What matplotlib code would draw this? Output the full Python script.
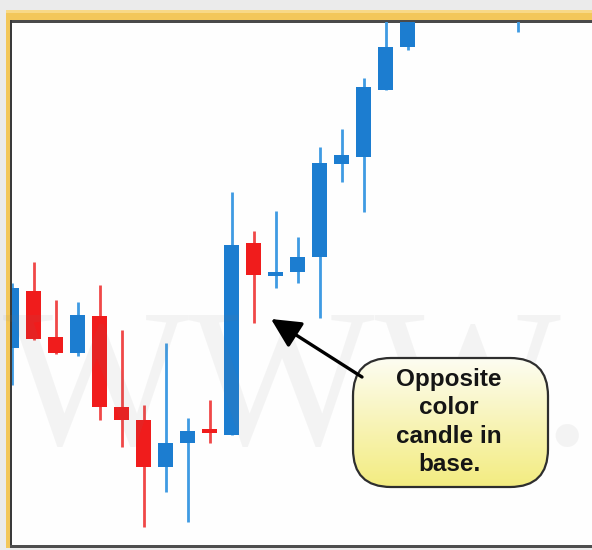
import matplotlib
matplotlib.use("Agg")
import matplotlib.pyplot as plt
import numpy as np
from matplotlib.patches import Rectangle, FancyBboxPatch
from matplotlib.colors import LinearSegmentedColormap

# ---------------- data ----------------
idx    = [0, 1, 2, 3, 4, 5, 6, 7, 8, 9, 10, 11, 12, 13, 14, 15, 16, 17, 18, 23]
opens  = [197, 254, 208, 192, 229, 138, 125, 78, 102, 116, 110, 302, 269, 273, 288, 381, 388, 455, 498, 540]
closes = [257, 206, 192, 230, 138, 125, 78, 102, 114, 112, 300, 270, 273, 288, 382, 390, 458, 498, 545, 570]
highs  = [262, 283, 245, 243, 260, 215, 140, 202, 127, 145, 353, 314, 334, 308, 398, 416, 467, 540, 560, 580]
lows   = [160, 205, 191, 189, 125, 98, 18, 53, 23, 102, 110, 222, 257, 262, 227, 363, 333, 455, 495, 513]

callout_text = "Opposite\ncolor\ncandle in\nbase."
watermark = "WWW."

UP_BODY, UP_WICK = "#1c7dd0", "#3f9be3"
DN_BODY, DN_WICK = "#f01c1c", "#f04848"

W, H = 592, 550
fig = plt.figure(figsize=(W / 100, H / 100), dpi=100)
fig.patch.set_facecolor("#ebebeb")

# background / frame axes in pixel coordinates
bg = fig.add_axes([0, 0, 1, 1])
bg.set_xlim(0, W); bg.set_ylim(H, 0); bg.axis("off")
bg.add_patch(Rectangle((12, 22), W - 12, 523, color="#fefefe", lw=0))   # white plot area
bg.add_patch(Rectangle((6, 10), W - 6, 12, color="#f3c75a", lw=0))      # top yellow
bg.add_patch(Rectangle((6, 10), 5, 538, color="#f3c75a", lw=0))         # left yellow
bg.add_patch(Rectangle((6, 10), W - 6, 3, color="#f8d987", lw=0))
bg.add_patch(Rectangle((10, 19.5), W - 10, 3, color="#4a4a4a", lw=0))  # top dark line
bg.add_patch(Rectangle((9.5, 19.5), 2.5, 528, color="#3a3a3a", lw=0))  # left dark line
bg.add_patch(Rectangle((10, 544.5), W - 10, 3.5, color="#4e4e4e", lw=0))  # bottom dark line

# chart axes: white plot area x 12..592, y 22..545
ax = fig.add_axes([12 / W, (H - 545) / H, (W - 12) / W, (545 - 22) / H])
ax.set_xlim((12 - 11.5) / 22, (W - 11.5) / 22)
ax.set_ylim(0, 523)
ax.axis("off")

idx_a = np.array(idx)
o = np.array(opens); c = np.array(closes); h = np.array(highs); l = np.array(lows)
up = c >= o
body_col = np.where(up, UP_BODY, DN_BODY)
wick_col = np.where(up, UP_WICK, DN_WICK)
ax.vlines(idx_a, l, h, colors=wick_col, lw=2.0, zorder=2)
bottoms = np.minimum(o, c)
heights = np.maximum(np.abs(c - o), 3)
ax.bar(idx_a, heights, bottom=bottoms, width=0.64, color=body_col, lw=0, zorder=3)

# overlay axes for watermark, arrow and callout
ov = fig.add_axes([0, 0, 1, 1])
ov.set_xlim(0, W); ov.set_ylim(H, 0); ov.axis("off")

ov.text(3, 444, watermark, family="Liberation Serif", fontsize=142,
        color="#7a7a7a", alpha=0.08, ha="left", va="baseline", zorder=1)

# callout box with vertical gradient
box = FancyBboxPatch((353, 358), 195, 129,
                     boxstyle="round,pad=0,rounding_size=38",
                     facecolor="none", edgecolor="#2e2e2e", lw=1.6, zorder=5)
ov.add_patch(box)
grad = np.linspace(0, 1, 256).reshape(-1, 1)
cmap = LinearSegmentedColormap.from_list("yl", ["#fdfdf2", "#f8f4b8", "#f3ec80"])
im = ov.imshow(grad, extent=(353, 548, 487, 358), cmap=cmap, aspect="auto", zorder=4)
clip = FancyBboxPatch((353, 358), 195, 129,
                      boxstyle="round,pad=0,rounding_size=38",
                      facecolor="none", edgecolor="none", transform=ov.transData)
im.set_clip_path(clip)
ov.set_xlim(0, W); ov.set_ylim(H, 0)

ov.text(449, 422, callout_text, family="Liberation Sans", fontweight="bold",
        fontsize=17.5, color="#151515", ha="center", va="center",
        linespacing=1.3, zorder=6)

ov.annotate("", xy=(271, 319), xytext=(362, 377),
            arrowprops=dict(arrowstyle="-|>,head_length=0.9,head_width=0.45",
                            color="black", lw=2.4, mutation_scale=20,
                            shrinkA=0, shrinkB=0), zorder=6)

fig.savefig("out.png", dpi=100)
